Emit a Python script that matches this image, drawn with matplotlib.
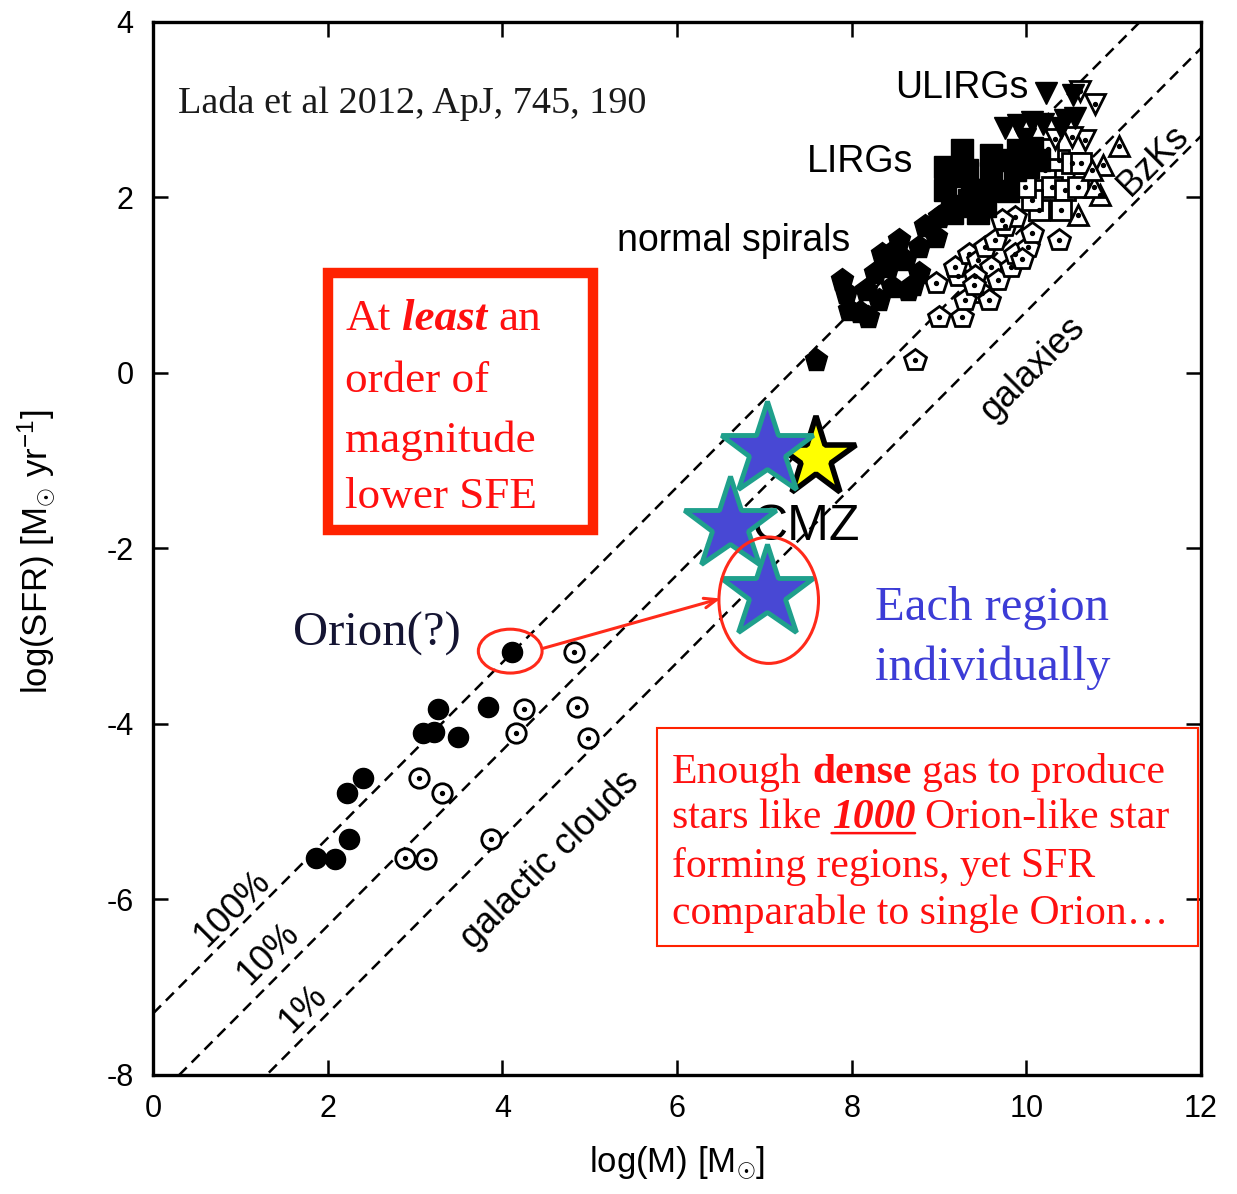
import matplotlib
matplotlib.use("Agg")
import matplotlib.pyplot as plt
from matplotlib.patches import Ellipse, Rectangle
import numpy as np

plt.rcParams['axes.unicode_minus'] = False
plt.rcParams['font.family'] = ['Liberation Sans', 'DejaVu Sans']
plt.rcParams['mathtext.fontset'] = 'custom'
plt.rcParams['mathtext.rm'] = 'Liberation Sans'
plt.rcParams['mathtext.it'] = 'Liberation Sans:italic'

# ---- star-formation thresholds: log SFR = log M + log(eff) - 7.3 ----
efficiencies = [1.0, 0.1, 0.01]
eff_labels = ["100%", "10%", "1%"]
line_zero = -7.3

# ---- galactic molecular clouds (Lada et al. 2012) ----
clouds_dense_x = [4.11, 3.26, 3.84, 3.09, 3.22, 3.49, 2.40, 2.22, 2.24, 1.87, 2.08]
clouds_dense_y = [-3.18, -3.83, -3.81, -4.10, -4.09, -4.15, -4.62, -4.79, -5.31, -5.53, -5.54]
clouds_total_x = [4.82, 4.25, 4.85, 4.16, 4.98, 3.04, 3.31, 3.87, 2.88, 3.13]
clouds_total_y = [-3.18, -3.83, -3.81, -4.10, -4.16, -4.62, -4.79, -5.31, -5.53, -5.54]

# ---- galaxies ----
spirals_dense_x = [7.59, 7.89, 7.93, 7.97, 8.19, 8.31, 8.27, 8.35, 8.54, 8.61, 8.65, 8.77,
                   8.77, 8.84, 8.96, 9.00, 9.07, 8.42, 8.46, 8.16, 8.10, 8.50, 8.70]
spirals_dense_y = [0.15, 1.06, 0.91, 0.72, 0.64, 0.83, 1.14, 1.36, 1.52, 1.29, 0.94, 1.14,
                   1.44, 1.67, 1.55, 1.78, 1.82, 1.21, 0.98, 0.94, 0.70, 1.40, 1.00]
spirals_total_x = [8.73, 8.96, 9.00, 9.26, 9.22, 9.18, 9.34, 9.45, 9.53, 9.60, 9.68, 9.83,
                   9.87, 10.02, 10.06, 9.64, 9.76, 9.87, 9.72, 9.49, 9.30, 10.37, 9.41,
                   9.57, 9.40, 9.95]
spirals_total_y = [0.15, 1.02, 0.64, 0.64, 1.10, 1.21, 1.36, 1.29, 1.44, 1.21, 1.06, 1.21,
                   1.36, 1.44, 1.59, 1.52, 1.67, 1.78, 1.74, 0.91, 0.83, 1.52, 1.10,
                   0.83, 1.00, 1.30]
lirgs_dense_x = [9.07, 9.07, 9.26, 9.32, 9.38, 9.34, 9.45, 9.59, 9.60, 9.53, 9.53, 9.79,
                 9.87, 9.91, 10.06, 10.02, 10.14, 9.74, 9.18, 9.22, 9.15]
lirgs_dense_y = [2.35, 2.08, 2.54, 2.31, 2.08, 1.97, 1.82, 2.48, 2.28, 2.08, 1.90, 2.07,
                 2.31, 2.54, 2.56, 2.35, 2.43, 2.43, 2.24, 1.90, 1.82]
lirgs_total_x = [10.21, 10.37, 10.52, 10.29, 10.44, 10.59, 10.14, 10.40, 10.63, 10.06, 9.98, 10.25]
lirgs_total_y = [2.31, 2.43, 2.39, 2.12, 2.09, 2.12, 1.86, 1.86, 2.39, 1.97, 2.12, 2.55]
ulirgs_dense_x = [10.23, 10.54, 9.76, 9.91, 10.06, 10.19, 10.44, 10.56, 9.98, 10.40]
ulirgs_dense_y = [3.19, 3.17, 2.79, 2.83, 2.86, 2.84, 2.88, 2.90, 2.67, 2.79]
ulirgs_total_x = [10.61, 10.79, 10.33, 10.67, 10.52]
ulirgs_total_y = [3.21, 3.07, 2.67, 2.66, 2.69]
bzks_x = [11.06, 10.88, 10.84, 10.78, 10.59, 10.75]
bzks_y = [2.59, 2.37, 2.03, 2.12, 1.80, 2.31]

# ---- Central Molecular Zone ----
cmz_regions_x = [7.03, 6.61, 7.03]
cmz_regions_y = [-0.88, -1.73, -2.51]
cmz_total_x = [7.59]
cmz_total_y = [-0.97]

x_ticks = [0, 2, 4, 6, 8, 10, 12]
y_ticks = [-8, -6, -4, -2, 0, 2, 4]

fig = plt.figure(figsize=(12.37, 11.94), dpi=100)
ax = fig.add_axes([0.1237, 0.0997, 0.8472, 0.8819])
ax.set_xlim(0, 12)
ax.set_ylim(-8, 4)
ax.set_xticks(x_ticks)
ax.set_yticks(y_ticks)
ax.tick_params(direction='in', length=11, width=1.8, top=True, right=True,
               labelsize=22, pad=14)
for sp in ax.spines.values():
    sp.set_linewidth(2.4)

ax.set_xlabel(r"log(M) [M$_{\odot}$]", fontsize=25)
ax.set_ylabel(r"log(SFR) [M$_{\odot}$ yr$^{-1}$]", fontsize=25)
ax.xaxis.set_label_coords(0.5, -0.066)
ax.yaxis.set_label_coords(-0.092, 0.497)

# efficiency lines
xx = np.array([0.0, 12.0])
for eff in efficiencies:
    ax.plot(xx, xx + np.log10(eff) + line_zero, color='black', lw=1.8,
            linestyle=(0, (4.5, 2.8)), zorder=1)

lab_kw = dict(fontsize=26, rotation=45, rotation_mode='anchor', ha='center', va='center')
ax.text(0.90, -6.10, eff_labels[0], **lab_kw)
ax.text(1.32, -6.62, eff_labels[1], **lab_kw)
ax.text(1.72, -7.25, eff_labels[2], **lab_kw)
ax.text(4.55, -5.55, "galactic clouds", **lab_kw)
ax.text(10.08, 0.05, "galaxies", **lab_kw)
ax.text(11.45, 2.42, "BzKs", **lab_kw)

ax.text(9.26, 3.25, "ULIRGs", fontsize=27, ha='center', va='center')
ax.text(8.10, 2.40, "LIRGs", fontsize=27, ha='center', va='center')
ax.text(6.65, 1.50, "normal spirals", fontsize=27, ha='center', va='center')


def dotted(x, y, marker, ms):
    ax.plot(x, y, marker, ms=ms, mfc='white', mec='black', mew=2.0, ls='none', zorder=3)
    ax.plot(x, y, 'o', ms=2.8, color='black', ls='none', zorder=3)


# clouds
dotted(clouds_total_x, clouds_total_y, 'o', 14)
ax.plot(clouds_dense_x, clouds_dense_y, 'o', ms=14.5, color='black', ls='none', zorder=3)

# galaxies
dotted(spirals_total_x, spirals_total_y, 'p', 16)
dotted(lirgs_total_x, lirgs_total_y, 's', 14)
dotted(ulirgs_total_x, ulirgs_total_y, 'v', 15)
dotted(bzks_x, bzks_y, '^', 15)
ax.plot(spirals_dense_x, spirals_dense_y, 'p', ms=17, color='black', ls='none', zorder=4)
ax.plot(lirgs_dense_x, lirgs_dense_y, 's', ms=15.5, color='black', ls='none', zorder=4)
ax.plot(ulirgs_dense_x, ulirgs_dense_y, 'v', ms=16, color='black', ls='none', zorder=4)

# CMZ
ax.text(7.47, -1.75, "CMZ", fontsize=36, ha='center', va='center', zorder=5)
ax.plot(cmz_total_x, cmz_total_y, '*', ms=60, mfc='#ffff00', mec='black', mew=4,
        ls='none', zorder=6)
ax.plot(cmz_regions_x, cmz_regions_y, '*', ms=70, mfc='#4848d4', mec='#1fa08c', mew=3.5,
        ls='none', zorder=7)

red = '#ff2a1a'
ax.add_patch(Ellipse((7.05, -2.59), 1.14, 1.44, fill=False, ec=red, lw=2.2, zorder=8))
ax.add_patch(Ellipse((4.09, -3.17), 0.73, 0.50, fill=False, ec=red, lw=2.2, zorder=8))
ax.annotate("", xy=(6.50, -2.57), xytext=(4.46, -3.14),
            arrowprops=dict(arrowstyle='->,head_length=0.9,head_width=0.35', color=red,
                            lw=2.2, shrinkA=0, shrinkB=0), zorder=8)

ax.text(0.024, 0.9136, "Lada et al 2012, ApJ, 745, 190", transform=ax.transAxes,
        family='Liberation Serif', fontsize=27.5, va='baseline', ha='left', color='#1a1a1a')
ax.text(0.1336, 0.408, "Orion(?)", transform=ax.transAxes, family='Liberation Serif',
        fontsize=35, va='baseline', ha='left', color='#141432')
ax.text(0.689, 0.432, "Each region", transform=ax.transAxes, family='Liberation Serif',
        fontsize=35, va='baseline', ha='left', color='#3c3cd6')
ax.text(0.689, 0.375, "individually", transform=ax.transAxes, family='Liberation Serif',
        fontsize=35, va='baseline', ha='left', color='#3c3cd6')


def rich_line(x, y, runs, size, color):
    gap = 0.25 * size
    prev = None
    made = []
    for s, weight, style in runs:
        kw = dict(fontsize=size, color=color, family='Liberation Serif',
                  fontweight=weight, fontstyle=style, zorder=9)
        if prev is None:
            t = ax.text(x, y, s, transform=ax.transAxes, va='baseline', ha='left', **kw)
        else:
            t = ax.annotate(s, xy=(1, 0), xycoords=prev, xytext=(gap, 0),
                            textcoords='offset points', va='bottom', ha='left', **kw)
        made.append(t)
        prev = t
    return made


N, B, BI = ('normal', 'normal'), ('bold', 'normal'), ('bold', 'italic')

# thick box
ax.add_patch(Rectangle((0.167, 0.518), 0.253, 0.244, transform=ax.transAxes, fill=False,
                       ec='#ff2200', lw=7.5, zorder=9))
tcol = '#ff1010'
rich_line(0.1832, 0.7075, [("At",) + N, ("least",) + BI, ("an",) + N], 32.5, tcol)
rich_line(0.1832, 0.6486, [("order of",) + N], 32.5, tcol)
rich_line(0.1832, 0.5916, [("magnitude",) + N], 32.5, tcol)
rich_line(0.1832, 0.5385, [("lower SFE",) + N], 32.5, tcol)

# thin box
ax.add_patch(Rectangle((0.481, 0.1225), 0.516, 0.207, transform=ax.transAxes, fill=False,
                       ec='#ff2200', lw=1.5, zorder=9))
rich_line(0.495, 0.2773, [("Enough",) + N, ("dense",) + B, ("gas to produce",) + N], 30, tcol)
l2 = rich_line(0.495, 0.2346, [("stars like",) + N, ("1000",) + BI, ("Orion-like star",) + N],
               30, tcol)
ax.annotate("", xy=(1, 0.1), xycoords=l2[1], xytext=(0, 0.1), textcoords=l2[1],
            arrowprops=dict(arrowstyle='-', color=tcol, lw=1.8, shrinkA=0, shrinkB=0),
            zorder=9)
rich_line(0.495, 0.188, [("forming regions, yet SFR",) + N], 30, tcol)
rich_line(0.495, 0.1434, [("comparable to single Orion\u2026",) + N], 30, tcol)

fig.savefig("out.png", dpi=100)
